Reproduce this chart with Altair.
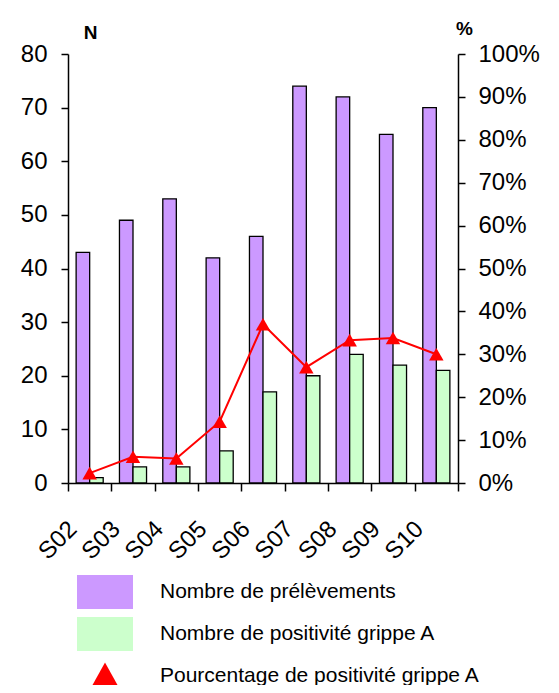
import altair as alt
import pandas as pd

weeks = ["S02", "S03", "S04", "S05", "S06", "S07", "S08", "S09", "S10"]
prelevements = [43, 49, 53, 42, 46, 74, 72, 65, 70]
positifs = [1, 3, 3, 6, 17, 20, 24, 22, 21]
pourcentage = [2.3, 6.1, 5.7, 14.3, 37.0, 27.0, 33.3, 33.8, 30.0]

s1 = "Nombre de prélèvements"
s2 = "Nombre de positivité grippe A"
s3 = "Pourcentage de positivité grippe A"
series_names = [s1, s2, s3]
colors = ["#CC99FF", "#CCFFCC", "#FF0000"]
rect_path = "M-1.12,-0.68L1.12,-0.68L1.12,0.68L-1.12,0.68Z"
tri_path = "M0,-0.54L0.6,0.54L-0.6,0.54Z"
shapes = [rect_path, rect_path, tri_path]

FONT = "Liberation Sans"

bars_df = pd.DataFrame({
    "week": weeks * 2,
    "serie": [s1] * len(weeks) + [s2] * len(weeks),
    "n": prelevements + positifs,
})
pct_df = pd.DataFrame({"week": weeks, "pct": pourcentage})
legend_df = pd.DataFrame({"serie": series_names})

x_enc = alt.X(
    "week:N", sort=weeks,
    scale=alt.Scale(paddingInner=0, paddingOuter=0),
    axis=alt.Axis(title=None, labelAngle=-45, labelAlign="right", labelBaseline="middle",
                  labelFontSize=24, labelPadding=34, labelOffset=-17,
                  tickBand="extent", tickSize=8),
)

leg = alt.Legend(title=None, orient="none", legendX=12, legendY=513, symbolSize=2500,
                 symbolStrokeWidth=0, symbolOpacity=1, labelFont=FONT, labelFontSize=21,
                 labelColor="black", labelOffset=30, rowPadding=0, labelLimit=500)

color_scale = alt.Scale(domain=series_names, range=colors)

bars = alt.Chart(bars_df).mark_bar(stroke="black", strokeWidth=1.3).encode(
    x=x_enc,
    xOffset=alt.XOffset("serie:N", sort=[s1, s2],
                        scale=alt.Scale(paddingInner=0, paddingOuter=0.6)),
    y=alt.Y("n:Q", scale=alt.Scale(domain=[0, 80]),
            axis=alt.Axis(orient="left", values=list(range(0, 81, 10)), title="N",
                          titleAngle=0, titleX=22, titleY=-12, titleFontWeight="bold",
                          titleFontSize=19, titleFont=FONT, titleColor="black",
                          labelFontSize=24, tickSize=7, labelPadding=14, grid=False)),
    color=alt.Color("serie:N", scale=color_scale, legend=leg),
)

y_pct = alt.Y("pct:Q", scale=alt.Scale(domain=[0, 100]),
              axis=alt.Axis(orient="right", values=list(range(0, 101, 10)), title="%",
                            labelExpr="datum.value + '%'",
                            titleAngle=0, titleX=6, titleY=-16, titleFontWeight="bold",
                            titleFontSize=19, titleFont=FONT, titleColor="black",
                            labelFontSize=24, tickSize=7, labelPadding=13, grid=False))

line = alt.Chart(pct_df).mark_line(color="#FF0000", strokeWidth=2).encode(x=x_enc, y=y_pct)
pts = alt.Chart(pct_df).mark_point(shape="triangle-up", filled=True, size=210,
                                   color="#FF0000", opacity=1).encode(x=x_enc, y=y_pct)

legend_layer = alt.Chart(legend_df).mark_point(filled=True, opacity=0).encode(
    color=alt.Color("serie:N", scale=color_scale, legend=leg),
    shape=alt.Shape("serie:N", scale=alt.Scale(domain=series_names, range=shapes), legend=leg),
)

chart = alt.layer(bars, alt.layer(line, pts), legend_layer).resolve_scale(
    y="independent"
).properties(
    width=390, height=429,
    autosize=alt.AutoSizeParams(type="none"),
    padding={"left": 60, "top": 46, "right": 93, "bottom": 202},
).configure_view(stroke=None).configure_axis(
    domainColor="black", domainWidth=1.5, tickColor="black", tickWidth=1.5,
    labelColor="black", labelFont=FONT,
)

chart.save("out.html", embed_options={"renderer": "svg", "actions": False})
